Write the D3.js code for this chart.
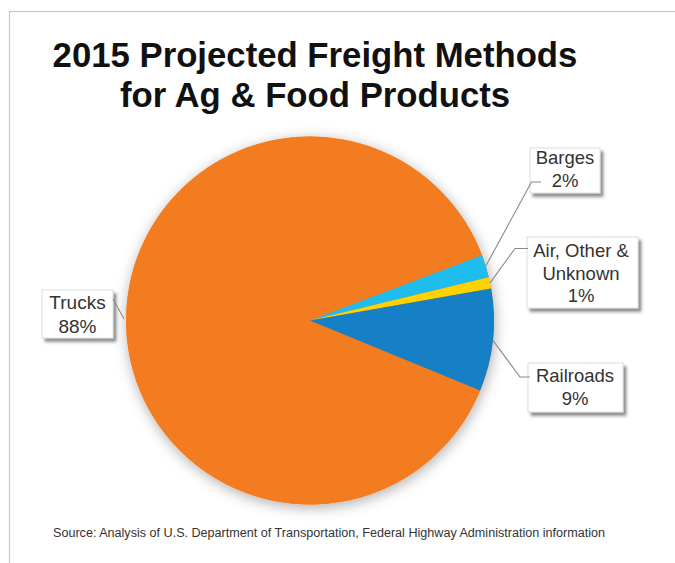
<!DOCTYPE html>
<html>
<head>
<meta charset="utf-8">
<script src="https://cdn.jsdelivr.net/npm/d3@7"></script>
<style>
  html, body { margin: 0; padding: 0; background: #fff; }
  svg { display: block; }
  text { font-family: "Liberation Sans", Arial, Helvetica, sans-serif; }
</style>
</head>
<body>
<svg id="chart" width="675" height="563"></svg>
<script>
// Freight share by mode (percent)
const categories = ["Trucks", "Barges", "Air, Other & Unknown", "Railroads"];
const values = [88, 2, 1, 9];
const sliceLabels = [["Trucks", "88%"], ["Barges", "2%"], ["Air, Other &", "Unknown", "1%"], ["Railroads", "9%"]];
const colors = ["#F47C20", "#1FBDEE", "#FFD200", "#1580C6"];

const titleLines = ["2015 Projected Freight Methods", "for Ag & Food Products"];
const sourceText = "Source: Analysis of U.S. Department of Transportation, Federal Highway Administration information";

const W = 675, H = 563;
const cx = 310, cy = 320.5, R = 184;
const svg = d3.select("#chart");
const defs = svg.append("defs");

// soft halo under the pie
const pieShadow = defs.append("filter").attr("id", "pieShadow")
  .attr("x", "-20%").attr("y", "-20%").attr("width", "140%").attr("height", "140%");
pieShadow.append("feDropShadow").attr("dx", 1).attr("dy", 3).attr("stdDeviation", 7)
  .attr("flood-color", "#000").attr("flood-opacity", 0.32);

// drop shadow for callout boxes
const boxShadow = defs.append("filter").attr("id", "boxShadow")
  .attr("x", "-20%").attr("y", "-20%").attr("width", "150%").attr("height", "150%");
boxShadow.append("feDropShadow").attr("dx", 3).attr("dy", 3.5).attr("stdDeviation", 1.6)
  .attr("flood-color", "#000").attr("flood-opacity", 0.45);

// frame
svg.append("rect").attr("x", 9.5).attr("y", 11.5).attr("width", W).attr("height", H)
  .attr("fill", "none").attr("stroke", "#c8c8c8").attr("stroke-width", 1.2);

// title, fitted to its width
const titleWidth = 525;
const titleG = svg.append("g");
const t1 = titleG.append("text").attr("x", 315).attr("y", 67).attr("text-anchor", "middle")
  .attr("font-weight", "bold").attr("fill", "#111").attr("font-size", 100).text(titleLines[0]);
const fs = 100 * titleWidth / t1.node().getComputedTextLength();
t1.attr("font-size", fs);
titleG.append("text").attr("x", 315).attr("y", 106.5).attr("text-anchor", "middle")
  .attr("font-weight", "bold").attr("fill", "#111").attr("font-size", fs).text(titleLines[1]);

// pie
const startDeg = 112.4;
const pie = d3.pie().sort(null).value(d => d)
  .startAngle(startDeg * Math.PI / 180)
  .endAngle(startDeg * Math.PI / 180 + 2 * Math.PI);
const arcs = pie(values);
const arc = d3.arc().innerRadius(0).outerRadius(R);

const pieG = svg.append("g").attr("transform", `translate(${cx},${cy})`);
pieG.append("circle").attr("r", R).attr("fill", colors[0]).attr("filter", "url(#pieShadow)");
pieG.selectAll("path.slice").data(arcs).join("path")
  .attr("class", "slice")
  .attr("d", arc)
  .attr("fill", (d, i) => colors[i]);

// callout layout: box geometry, elbow of the leader, line height
const callouts = [
  { box: [42, 290, 71, 48], elbow: null, textX: 77.5, firstBase: 309, lh: 24, size: 19 },
  { box: [530, 148, 70, 45], elbow: [[531.5, 182], [541, 182]], textX: 565, firstBase: 164, lh: 23, size: 18.5 },
  { box: [527, 237, 111, 71], elbow: [[515, 248.5], [528, 248.5]], textX: 581, firstBase: 257, lh: 22.5, size: 18.5 },
  { box: [528, 363, 95, 49], elbow: [[520, 377], [530, 377]], textX: 575, firstBase: 382, lh: 23, size: 18.5 }
];

const edgePoint = a => {
  const ang = (a.startAngle + a.endAngle) / 2;
  return [cx + R * Math.sin(ang), cy - R * Math.cos(ang)];
};

const labelG = svg.append("g");
callouts.forEach((c, i) => {
  const [bx, by, bw, bh] = c.box;
  labelG.append("rect").attr("x", bx).attr("y", by).attr("width", bw).attr("height", bh)
    .attr("fill", "#fff").attr("stroke", "#d4d4d4").attr("stroke-width", 0.8)
    .attr("filter", "url(#boxShadow)");
  const p = edgePoint(arcs[i]);
  const pts = c.elbow ? [p, ...c.elbow] : [[bx + bw, by + 9], [p[0] - 2, p[1] + 1]];
  labelG.append("path").attr("d", d3.line()(pts))
    .attr("fill", "none").attr("stroke", "#8a8a8a").attr("stroke-width", 1.1);
  const txt = labelG.append("text").attr("text-anchor", "middle")
    .attr("fill", "#333").attr("font-size", c.size);
  sliceLabels[i].forEach((line, k) => {
    txt.append("tspan").attr("x", c.textX).attr("y", c.firstBase + k * c.lh).text(line);
  });
});

// source note
svg.append("text").attr("x", 53).attr("y", 537).attr("font-size", 12.5).attr("fill", "#333")
  .attr("textLength", 552).attr("lengthAdjust", "spacingAndGlyphs").text(sourceText);
</script>
</body>
</html>
